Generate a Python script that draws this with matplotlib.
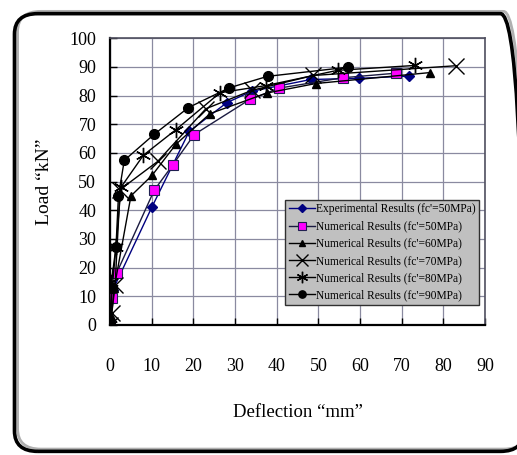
#!/usr/bin/env python3
"""Load vs deflection curves: experimental result and numerical results for fc' = 50..90 MPa."""
import matplotlib
matplotlib.use("Agg")
import matplotlib.pyplot as plt
from matplotlib.patches import FancyBboxPatch

plt.rcParams["font.family"] = ["Liberation Serif", "DejaVu Serif"]

# values (deflection mm, load kN)
exp50_x = [0.0, 0.6, 10.0, 19.0, 28.0, 34.0, 48.2, 59.8, 71.8]
exp50_y = [0.0, 12.0, 41.0, 67.5, 77.5, 81.5, 85.6, 86.0, 86.8]

num50_x = [0.0, 0.5, 1.6, 10.6, 15.0, 20.2, 33.6, 40.6, 55.8, 68.6]
num50_y = [0.0, 9.5, 18.2, 47.0, 55.7, 66.4, 78.7, 82.6, 86.2, 87.8]

num60_x = [0.0, 0.3, 1.0, 5.0, 10.1, 15.8, 24.0, 37.7, 49.4, 76.7]
num60_y = [0.0, 3.0, 13.0, 45.0, 52.2, 63.0, 73.7, 80.9, 84.2, 88.0]

num70_x = [0.0, 0.4, 1.2, 2.4, 11.4, 23.0, 34.0, 48.8, 83.0]
num70_y = [0.0, 4.0, 14.0, 47.2, 57.0, 75.4, 81.8, 87.0, 90.4]

num80_x = [0.0, 0.3, 1.4, 2.6, 8.0, 15.8, 26.4, 37.5, 54.6, 73.2]
num80_y = [0.0, 15.0, 27.0, 48.0, 59.2, 68.1, 81.0, 83.5, 88.8, 90.5]

num90_x = [0.0, 0.5, 1.4, 2.0, 3.4, 10.6, 18.8, 28.6, 37.8, 57.2]
num90_y = [0.0, 13.0, 27.0, 45.0, 57.4, 66.5, 75.8, 82.7, 86.7, 89.9]

labels = [
    "Experimental Results (fc'=50MPa)",
    "Numerical Results (fc'=50MPa)",
    "Numerical Results (fc'=60MPa)",
    "Numerical Results (fc'=70MPa)",
    "Numerical Results (fc'=80MPa)",
    "Numerical Results (fc'=90MPa)",
]

fig = plt.figure(figsize=(5.17, 4.55), dpi=100)

# rounded outer frame with a soft shadow
shadow = FancyBboxPatch((0.034, 0.013), 0.985, 0.962,
                        boxstyle="round,pad=0,rounding_size=0.045",
                        transform=fig.transFigure, fill=False,
                        edgecolor="#b0b0b0", linewidth=2.0)
frame = FancyBboxPatch((0.028, 0.008), 0.985, 0.962,
                       boxstyle="round,pad=0,rounding_size=0.045",
                       transform=fig.transFigure, fill=False,
                       edgecolor="black", linewidth=2.6)
fig.patches.extend([shadow, frame])

ax = fig.add_axes([0.213, 0.286, 0.725, 0.630])

ax.plot(exp50_x, exp50_y, color="#000080", lw=1.0, marker="D", ms=5,
        mfc="#000080", mec="#000080", label=labels[0], zorder=3)
ax.plot(num50_x, num50_y, color="#1a1a40", lw=1.0, marker="s", ms=7,
        mfc="#ff00ff", mec="#202050", mew=0.8, label=labels[1], zorder=3)
ax.plot(num60_x, num60_y, color="black", lw=1.0, marker="^", ms=6,
        mfc="black", mec="black", label=labels[2], zorder=3)
ax.plot(num70_x, num70_y, color="black", lw=1.0, marker="x", ms=11,
        mew=1.0, label=labels[3], zorder=3)
ax.plot(num80_x, num80_y, color="black", lw=1.0, marker=(6, 2, 0), ms=11,
        mew=1.0, label=labels[4], zorder=3)
ax.plot(num90_x, num90_y, color="black", lw=1.0, marker="o", ms=7,
        mfc="black", mec="black", label=labels[5], zorder=3)

ax.set_xlim(0, 90)
ax.set_ylim(0, 100)
ax.set_xticks(range(0, 91, 10))
ax.set_yticks(range(0, 101, 10))
ax.grid(True, color="#8a8aa0", lw=0.9)
ax.set_axisbelow(True)
ax.tick_params(direction="in", length=5, width=1.0, labelsize=13)
ax.tick_params(axis="x", pad=24)
ax.tick_params(axis="y", pad=10)
for side in ("top", "right"):
    ax.spines[side].set_color("#505060")
    ax.spines[side].set_linewidth(1.2)
for side in ("left", "bottom"):
    ax.spines[side].set_color("black")
    ax.spines[side].set_linewidth(1.6)

ax.set_xlabel("Deflection \u201cmm\u201d", fontsize=13.5)
ax.set_ylabel("Load \u201ckN\u201d", fontsize=14)
ax.xaxis.set_label_coords(0.5, -0.275)
ax.yaxis.set_label_coords(-0.152, 0.5)

leg = ax.legend(loc="lower right", bbox_to_anchor=(0.985, 0.07),
                fontsize=8.3, frameon=True, fancybox=False,
                handlelength=2.3, handletextpad=0.1, labelspacing=0.45,
                borderpad=0.3, borderaxespad=0.0, markerscale=0.75)
leg.get_frame().set_facecolor("#c0c0c0")
leg.get_frame().set_edgecolor("#303030")
leg.get_frame().set_alpha(1.0)
leg.get_frame().set_linewidth(1.0)

fig.savefig("out.png", dpi=100)
